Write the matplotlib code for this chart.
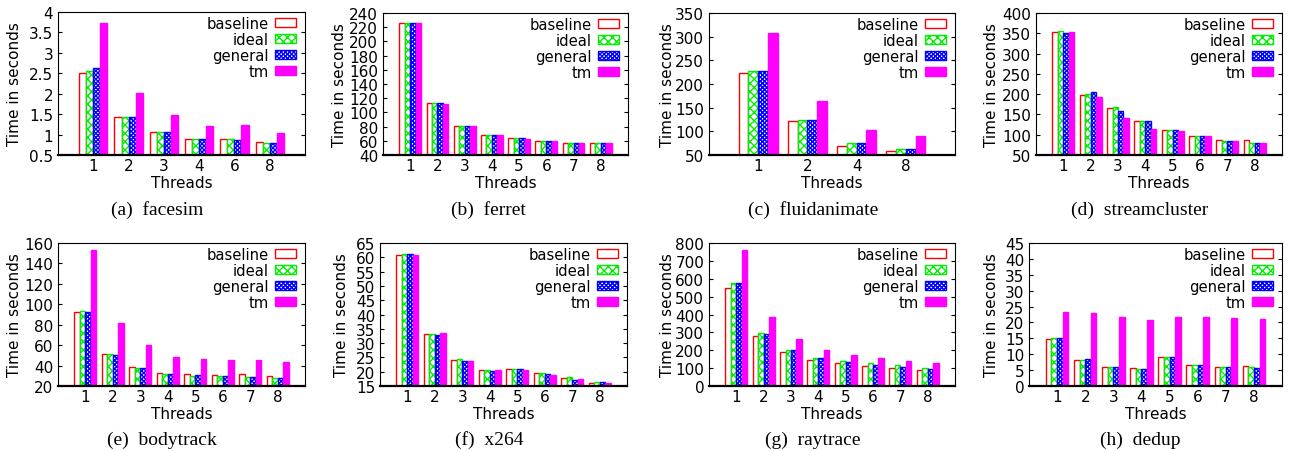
import matplotlib
matplotlib.use('Agg')
import matplotlib.pyplot as plt
from matplotlib.patches import Patch
from matplotlib.ticker import MultipleLocator, FuncFormatter
import numpy as np

# ---------------- data ----------------
series_names = ['baseline', 'ideal', 'general', 'tm']

facesim_threads = ['1', '2', '3', '4', '6', '8']
facesim_baseline = [2.50, 1.44, 1.07, 0.90, 0.89, 0.83]
facesim_ideal = [2.55, 1.43, 1.06, 0.90, 0.88, 0.80]
facesim_general = [2.62, 1.43, 1.06, 0.90, 0.87, 0.79]
facesim_tm = [3.73, 2.02, 1.48, 1.20, 1.23, 1.03]

ferret_threads = ['1', '2', '3', '4', '5', '6', '7', '8']
ferret_baseline = [226, 113, 81, 68, 64, 60, 57.5, 57]
ferret_ideal = [226, 113, 81, 67.5, 64, 60, 57.5, 57]
ferret_general = [226, 113, 81, 67.5, 64, 60, 57.5, 57]
ferret_tm = [226, 112, 81, 67.5, 63, 60, 57.5, 57]

fluid_threads = ['1', '2', '4', '8']
fluid_baseline = [223, 122.7, 69, 58.5]
fluid_ideal = [227, 124, 76, 63.4]
fluid_general = [227, 124, 75, 63.5]
fluid_tm = [307, 164.4, 102, 89.5]

stream_threads = ['1', '2', '3', '4', '5', '6', '7', '8']
stream_baseline = [353, 198, 167, 134, 112, 98, 87, 87]
stream_ideal = [356, 201.5, 168, 133, 112, 98, 85.5, 79]
stream_general = [351, 205, 158, 133, 112, 98, 85.5, 79]
stream_tm = [352, 192.5, 141, 114, 108, 96, 85.5, 79]

body_threads = ['1', '2', '3', '4', '5', '6', '7', '8']
body_baseline = [92, 51, 38.3, 33, 31.5, 31, 31.5, 29.5]
body_ideal = [93, 51, 37.3, 31.8, 30, 29.5, 28.5, 27.6]
body_general = [92.6, 50.4, 37.3, 31.5, 30.5, 29.5, 28.5, 27.6]
body_tm = [153.5, 82, 60, 48, 46, 45, 45, 43.7]

x264_threads = ['1', '2', '3', '4', '5', '6', '7', '8']
x264_baseline = [60.8, 33.3, 24.0, 20.6, 21.0, 19.4, 17.8, 16.0]
x264_ideal = [61.1, 33.3, 24.3, 20.7, 21.0, 19.4, 18.0, 16.4]
x264_general = [61.0, 33.0, 23.8, 20.3, 20.8, 19.1, 17.2, 16.3]
x264_tm = [60.8, 33.5, 23.8, 20.5, 20.5, 18.8, 17.5, 16.0]

ray_threads = ['1', '2', '3', '4', '5', '6', '7', '8']
ray_baseline = [551, 278, 191, 148, 127, 110, 99, 88]
ray_ideal = [576, 295, 200, 157, 138, 127, 116, 99]
ray_general = [576, 290, 200, 155, 135, 116, 106, 97]
ray_tm = [763, 387, 263, 202, 176, 157, 140, 127]

dedup_threads = ['1', '2', '3', '4', '5', '6', '7', '8']
dedup_baseline = [14.8, 8.1, 5.9, 5.6, 9.0, 6.5, 6.1, 6.4]
dedup_ideal = [15.0, 8.1, 6.1, 5.4, 9.0, 6.5, 5.9, 5.9]
dedup_general = [15.0, 8.4, 5.9, 5.3, 9.0, 6.5, 5.9, 5.8]
dedup_tm = [23.4, 23.0, 21.8, 20.9, 21.6, 21.8, 21.5, 21.1]

captions = ['(a)  facesim', '(b)  ferret', '(c)  fluidanimate', '(d)  streamcluster',
            '(e)  bodytrack', '(f)  x264', '(g)  raytrace', '(h)  dedup']

panels_data = [
    (facesim_threads, [facesim_baseline, facesim_ideal, facesim_general, facesim_tm]),
    (ferret_threads, [ferret_baseline, ferret_ideal, ferret_general, ferret_tm]),
    (fluid_threads, [fluid_baseline, fluid_ideal, fluid_general, fluid_tm]),
    (stream_threads, [stream_baseline, stream_ideal, stream_general, stream_tm]),
    (body_threads, [body_baseline, body_ideal, body_general, body_tm]),
    (x264_threads, [x264_baseline, x264_ideal, x264_general, x264_tm]),
    (ray_threads, [ray_baseline, ray_ideal, ray_general, ray_tm]),
    (dedup_threads, [dedup_baseline, dedup_ideal, dedup_general, dedup_tm]),
]

# ---------------- layout / style ----------------
W, H, DPI = 1289, 452, 100
# axes boxes in pixels: left, top, right, bottom
boxes = [
    (58, 13, 305, 156), (383, 14, 628, 156), (709, 14, 955, 156), (1036, 14, 1282, 156),
    (58, 244, 305, 387), (380, 244, 627, 387), (709, 244, 955, 387), (1029, 244, 1282, 387),
]
ylims = [(0.5, 4), (40, 240), (50, 350), (50, 400), (20, 160), (15, 65), (0, 800), (0, 45)]
ysteps = [0.5, 20, 50, 50, 20, 5, 100, 5]
ylabel_x = [15, 340, 667, 992, 15, 341, 667, 992]
caption_x = [157, 488, 813, 1140, 162, 489, 813, 1140]
threads_y = [183, 415]
caption_y = [210, 440]

plt.rcParams['font.family'] = ['DejaVu Sans']
plt.rcParams['hatch.linewidth'] = 1.0

styles = [
    dict(facecolor='white', edgecolor='#ff0000', hatch=None),
    dict(facecolor='white', edgecolor='#00ee00', hatch='xxxx'),
    dict(facecolor='white', edgecolor='#0000ff', hatch='xxxxxxxx'),
    dict(facecolor='#ff00ff', edgecolor='#ff00ff', hatch=None),
]

fig = plt.figure(figsize=(W / DPI, H / DPI), dpi=DPI)
fs = 11

def fx(px):
    return px / W

def fy(py):
    return 1 - py / H

for i, ((threads, vals), box, ylim, step) in enumerate(zip(panels_data, boxes, ylims, ysteps)):
    l, t, r, b = box
    ax = fig.add_axes([fx(l), fy(b), (r - l) / W, (b - t) / H])
    n = len(threads)
    x = np.arange(n)
    bw = 0.2
    for k, (name, v) in enumerate(zip(series_names, vals)):
        st = styles[k]
        ax.bar(x + (k - 1.5) * bw, v, bw, bottom=0, facecolor=st['facecolor'],
               edgecolor=st['edgecolor'], hatch=st['hatch'], linewidth=1.0, label=name)
    ax.set_xlim(-1, n)
    ax.set_ylim(*ylim)
    ax.yaxis.set_major_locator(MultipleLocator(step))
    ax.yaxis.set_major_formatter(FuncFormatter(lambda v, p: '%g' % round(v, 6)))
    ax.set_xticks(x)
    ax.set_xticklabels(threads)
    ax.tick_params(axis='x', length=0, pad=2.0, labelsize=fs)
    ax.tick_params(axis='y', direction='in', length=3, left=True, right=True, pad=3.5,
                   labelsize=fs, width=0.8)
    for s in ['left', 'right', 'top']:
        ax.spines[s].set_linewidth(0.8)
    ax.spines['bottom'].set_linewidth(1.6)
    handles = [Patch(facecolor=styles[k]['facecolor'], edgecolor=styles[k]['edgecolor'],
                     hatch=styles[k]['hatch'], linewidth=1.0, label=series_names[k])
               for k in range(4)]
    aw, ah = r - l, b - t
    ax.legend(handles=handles, loc='upper right',
              bbox_to_anchor=(1 - 9 / aw, 1 - 4 / ah), frameon=False, markerfirst=False,
              fontsize=10.6, handlelength=1.45, handleheight=0.55, handletextpad=0.4,
              labelspacing=0.06, borderpad=0, borderaxespad=0)
    row = 0 if i < 4 else 1
    fig.text(fx((l + r) / 2), fy(threads_y[row]), 'Threads', ha='center', va='center',
             fontsize=fs)
    fig.text(fx(ylabel_x[i]), fy((t + b) / 2), 'Time in seconds', rotation=90,
             ha='center', va='center', fontsize=fs)
    fig.text(fx(caption_x[i]), fy(caption_y[row]), captions[i], ha='center', va='center',
             fontsize=14, family=['Liberation Serif', 'DejaVu Serif'])

fig.savefig('out.png', dpi=DPI)
